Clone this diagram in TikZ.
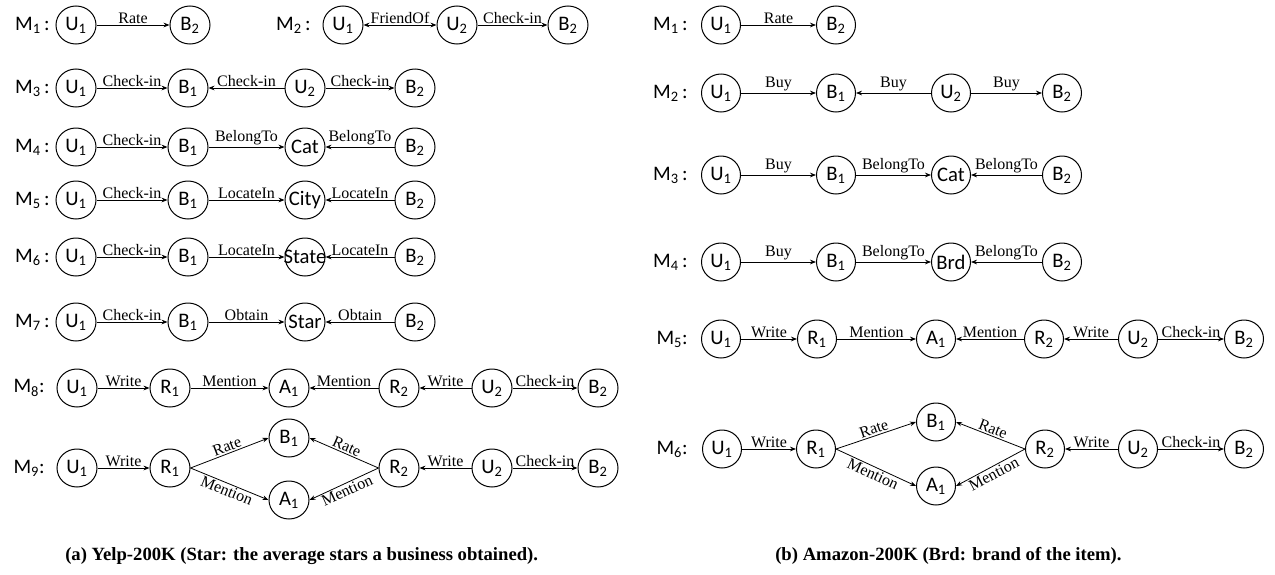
\documentclass[tikz,border=0pt]{standalone}
\usepackage{fontspec}
\setmainfont{Liberation Serif}
\newfontfamily\nfont{Carlito}
\usetikzlibrary{arrows.meta,shapes.geometric}
\newcommand\lab[2]{\makebox[0pt]{#1\textsubscript{#2}}}
\newcommand\wrd[1]{\makebox[0pt]{#1}}
\tikzset{
 nd/.style={ellipse, draw, line width=0.75pt, minimum width=30pt, minimum height=28.5pt, inner sep=0pt, font=\nfont\fontsize{15.5}{18}\selectfont},
 ndr/.style={nd, minimum width=29.25pt},
 ed/.style={line width=0.6pt, -{Stealth[length=4.5pt,width=3.5pt]}},
 edd/.style={line width=0.6pt, {Stealth[length=4.5pt,width=3.5pt]}-{Stealth[length=4.5pt,width=3.5pt]}},
 lb/.style={font=\fontsize{12}{13}\selectfont, above, inner sep=1pt},
 lbb/.style={font=\fontsize{12}{13}\selectfont, below, inner sep=1pt},
 ml/.style={anchor=east, font=\nfont\fontsize{15.5}{18}\selectfont, inner sep=0pt},
 captxt/.style={anchor=base west, font=\bfseries\fontsize{14}{16}\selectfont, inner sep=0pt}
}
\begin{document}
\begin{tikzpicture}[x=0.75pt,y=-0.75pt]
\useasboundingbox (0,0) rectangle (1275,575);
% ---------------- left panel ----------------
% M1
\node[ml] (aM1) at (50,25) {M\textsubscript{1}\,:};
\node[nd] (a1u1) at (76,25) {\lab{U}{1}};
\node[nd] (a1b2) at (190,25) {\lab{B}{2}};
\draw[ed] (a1u1) -- node[lb]{Rate} (a1b2);
% M2
\node[ml] (aM2) at (311,25) {M\textsubscript{2}\,:};
\node[nd] (a2u1) at (343,25) {\lab{U}{1}};
\node[nd] (a2u2) at (457,25) {\lab{U}{2}};
\node[nd] (a2b2) at (568,25) {\lab{B}{2}};
\draw[edd] (a2u1) -- node[lb]{FriendOf} (a2u2);
\draw[ed] (a2u2) -- node[lb]{Check-in} (a2b2);
% M3
\node[ml] (aM3) at (50,88) {M\textsubscript{3}\,:};
\node[nd] (a3u1) at (76,88) {\lab{U}{1}};
\node[nd] (a3b1) at (188,88) {\lab{B}{1}};
\node[nd] (a3u2) at (305,88) {\lab{U}{2}};
\node[nd] (a3b2) at (415,88) {\lab{B}{2}};
\draw[ed] (a3u1) -- node[lb]{Check-in} (a3b1);
\draw[ed] (a3u2) -- node[lb]{Check-in} (a3b1);
\draw[ed] (a3u2) -- node[lb]{Check-in} (a3b2);
% M4
\node[ml] (aM4) at (50,147) {M\textsubscript{4}\,:};
\node[nd] (a4u1) at (76,147) {\lab{U}{1}};
\node[nd] (a4b1) at (188,147) {\lab{B}{1}};
\node[nd] (a4c) at (305,147) {\wrd{Cat}};
\node[nd] (a4b2) at (415,147) {\lab{B}{2}};
\draw[ed] (a4u1) -- node[lb]{Check-in} (a4b1);
\draw[ed] (a4b1) -- node[lb]{BelongTo} (a4c);
\draw[ed] (a4b2) -- node[lb]{BelongTo} (a4c);
% M5
\node[ml] (aM5) at (50,200) {M\textsubscript{5}\,:};
\node[nd] (a5u1) at (76,200) {\lab{U}{1}};
\node[nd] (a5b1) at (188,200) {\lab{B}{1}};
\node[nd] (a5c) at (305,200) {\wrd{City}};
\node[nd] (a5b2) at (415,200) {\lab{B}{2}};
\draw[ed] (a5u1) -- node[lb]{Check-in} (a5b1);
\draw[ed] (a5b1) -- node[lb]{LocateIn} (a5c);
\draw[ed] (a5b2) -- node[lb]{LocateIn} (a5c);
% M6
\node[ml] (aM6) at (50,257) {M\textsubscript{6}\,:};
\node[nd] (a6u1) at (76,257) {\lab{U}{1}};
\node[nd] (a6b1) at (188,257) {\lab{B}{1}};
\node[nd] (a6c) at (305,257) {\wrd{State}};
\node[nd] (a6b2) at (415,257) {\lab{B}{2}};
\draw[ed] (a6u1) -- node[lb]{Check-in} (a6b1);
\draw[ed] (a6b1) -- node[lb]{LocateIn} (a6c);
\draw[ed] (a6b2) -- node[lb]{LocateIn} (a6c);
% M7
\node[ml] (aM7) at (50,322) {M\textsubscript{7}\,:};
\node[nd] (a7u1) at (76,322) {\lab{U}{1}};
\node[nd] (a7b1) at (188,322) {\lab{B}{1}};
\node[nd] (a7c) at (305,322) {\wrd{Star}};
\node[nd] (a7b2) at (415,322) {\lab{B}{2}};
\draw[ed] (a7u1) -- node[lb]{Check-in} (a7b1);
\draw[ed] (a7b1) -- node[lb]{Obtain} (a7c);
\draw[ed] (a7b2) -- node[lb]{Obtain} (a7c);
% M8
\node[ml] (aM8) at (45,388) {M\textsubscript{8}:};
\node[nd] (a8u1) at (77,388) {\lab{U}{1}};
\node[nd] (a8r1) at (170,388) {\lab{R}{1}};
\node[nd] (a8a1) at (289,388) {\lab{A}{1}};
\node[nd] (a8r2) at (399,388) {\lab{R}{2}};
\node[nd] (a8u2) at (492,388) {\lab{U}{2}};
\node[nd] (a8b2) at (598,388) {\lab{B}{2}};
\draw[ed] (a8u1) -- node[lb]{Write} (a8r1);
\draw[ed] (a8r1) -- node[lb]{Mention} (a8a1);
\draw[ed] (a8r2) -- node[lb]{Mention} (a8a1);
\draw[ed] (a8u2) -- node[lb]{Write} (a8r2);
\draw[ed] (a8u2) -- node[lb]{Check-in} (a8b2);
% M9
\node[ml] (aM9) at (45,468) {M\textsubscript{9}:};
\node[nd] (a9u1) at (77,468) {\lab{U}{1}};
\node[nd] (a9r1) at (170,468) {\lab{R}{1}};
\node[nd] (a9b1) at (289,438) {\lab{B}{1}};
\node[nd] (a9a1) at (289,500) {\lab{A}{1}};
\node[nd] (a9r2) at (399,468) {\lab{R}{2}};
\node[nd] (a9u2) at (492,468) {\lab{U}{2}};
\node[nd] (a9b2) at (598,468) {\lab{B}{2}};
\draw[ed] (a9u1) -- node[lb]{Write} (a9r1);
\draw[ed] (a9r1.east) -- node[lb,sloped]{Rate} (a9b1.west);
\draw[ed] (a9r1.east) -- node[lbb,sloped]{Mention} (a9a1.west);
\draw[ed] (a9r2.west) -- node[lb,sloped]{Rate} (a9b1.east);
\draw[ed] (a9r2.west) -- node[lbb,sloped]{Mention} (a9a1.east);
\draw[ed] (a9u2) -- node[lb]{Write} (a9r2);
\draw[ed] (a9u2) -- node[lb]{Check-in} (a9b2);
% ---------------- right panel ----------------
% M1
\node[ml] (bM1) at (688,25) {M\textsubscript{1}\,:};
\node[ndr] (b1u1) at (721,25) {\lab{U}{1}};
\node[ndr] (b1b2) at (836,25) {\lab{B}{2}};
\draw[ed] (b1u1) -- node[lb]{Rate} (b1b2);
% M2
\node[ml] (bM2) at (688,93) {M\textsubscript{2}\,:};
\node[ndr] (b2u1) at (721,93) {\lab{U}{1}};
\node[ndr] (b2b1) at (836,93) {\lab{B}{1}};
\node[ndr] (b2u2) at (951,93) {\lab{U}{2}};
\node[ndr] (b2b2) at (1062,93) {\lab{B}{2}};
\draw[ed] (b2u1) -- node[lb]{Buy} (b2b1);
\draw[ed] (b2u2) -- node[lb]{Buy} (b2b1);
\draw[ed] (b2u2) -- node[lb]{Buy} (b2b2);
% M3
\node[ml] (bM3) at (688,175) {M\textsubscript{3}\,:};
\node[ndr] (b3u1) at (721,175) {\lab{U}{1}};
\node[ndr] (b3b1) at (836,175) {\lab{B}{1}};
\node[ndr] (b3c) at (951,175) {\wrd{Cat}};
\node[ndr] (b3b2) at (1062,175) {\lab{B}{2}};
\draw[ed] (b3u1) -- node[lb]{Buy} (b3b1);
\draw[ed] (b3b1) -- node[lb]{BelongTo} (b3c);
\draw[ed] (b3b2) -- node[lb]{BelongTo} (b3c);
% M4
\node[ml] (bM4) at (688,262) {M\textsubscript{4}\,:};
\node[ndr] (b4u1) at (721,262) {\lab{U}{1}};
\node[ndr] (b4b1) at (836,262) {\lab{B}{1}};
\node[ndr] (b4c) at (951,262) {\wrd{Brd}};
\node[ndr] (b4b2) at (1062,262) {\lab{B}{2}};
\draw[ed] (b4u1) -- node[lb]{Buy} (b4b1);
\draw[ed] (b4b1) -- node[lb]{BelongTo} (b4c);
\draw[ed] (b4b2) -- node[lb]{BelongTo} (b4c);
% M5
\node[ml] (bM5) at (688,339) {M\textsubscript{5}:};
\node[ndr] (b5u1) at (721,339) {\lab{U}{1}};
\node[ndr] (b5r1) at (817,339) {\lab{R}{1}};
\node[ndr] (b5a1) at (936,339) {\lab{A}{1}};
\node[ndr] (b5r2) at (1044,339) {\lab{R}{2}};
\node[ndr] (b5u2) at (1138,339) {\lab{U}{2}};
\node[ndr] (b5b2) at (1244,339) {\lab{B}{2}};
\draw[ed] (b5u1) -- node[lb]{Write} (b5r1);
\draw[ed] (b5r1) -- node[lb]{Mention} (b5a1);
\draw[ed] (b5r2) -- node[lb]{Mention} (b5a1);
\draw[ed] (b5u2) -- node[lb]{Write} (b5r2);
\draw[ed] (b5u2) -- node[lb]{Check-in} (b5b2);
% M6
\node[ml] (bM6) at (688,449) {M\textsubscript{6}:};
\node[ndr] (b6u1) at (722,449) {\lab{U}{1}};
\node[ndr] (b6r1) at (816,449) {\lab{R}{1}};
\node[ndr] (b6b1) at (936,422) {\lab{B}{1}};
\node[ndr] (b6a1) at (936,486) {\lab{A}{1}};
\node[ndr] (b6r2) at (1045,449) {\lab{R}{2}};
\node[ndr] (b6u2) at (1138,449) {\lab{U}{2}};
\node[ndr] (b6b2) at (1244,449) {\lab{B}{2}};
\draw[ed] (b6u1) -- node[lb]{Write} (b6r1);
\draw[ed] (b6r1.east) -- node[lb,sloped]{Rate} (b6b1.west);
\draw[ed] (b6r1.east) -- node[lbb,sloped]{Mention} (b6a1.west);
\draw[ed] (b6r2.west) -- node[lb,sloped]{Rate} (b6b1.east);
\draw[ed] (b6r2.west) -- node[lbb,sloped]{Mention} (b6a1.east);
\draw[ed] (b6u2) -- node[lb]{Write} (b6r2);
\draw[ed] (b6u2) -- node[lb]{Check-in} (b6b2);
% captions
\node[captxt] (capa) at (65,560) {(a) Yelp-200K (Star: the average stars a business obtained).};
\node[captxt] (capb) at (775,560) {(b) Amazon-200K (Brd: brand of the item).};
\end{tikzpicture}
\end{document}
